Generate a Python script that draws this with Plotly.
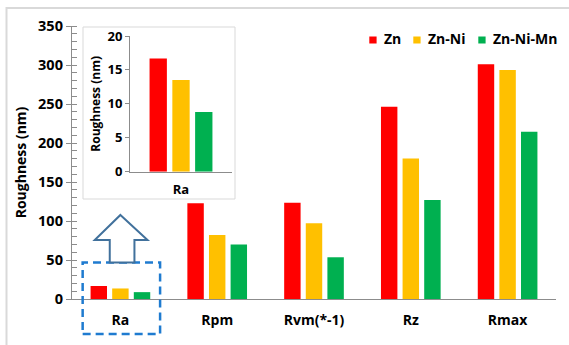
import plotly.graph_objects as go

# Surface roughness parameters for the three coatings
categories = ["Ra", "Rpm", "Rvm(*-1)", "Rz", "Rmax"]
zn = [16.7, 122.7, 123.5, 246.5, 301.0]
zn_ni = [13.5, 82.0, 97.0, 180.0, 293.5]
zn_ni_mn = [8.8, 70.0, 53.5, 127.0, 214.5]

series_names = ["Zn", "Zn-Ni", "Zn-Ni-Mn"]
series_values = [zn, zn_ni, zn_ni_mn]
series_colors = ["#FF0000", "#FFC000", "#00B050"]

W, H = 569, 345
L, R, T, B = 72, 13, 26, 46
PW, PH = W - L - R, H - T - B


def px_x(px):
    return (px - L) / PW


def px_y(py):
    return (H - B - py) / PH


FONT = "Open Sans"
AXIS_GREY = "#8C8C8C"

fig = go.Figure()

# main grouped bars
for name, vals, col in zip(series_names, series_values, series_colors):
    fig.add_trace(go.Bar(x=categories, y=vals, name=name, marker_color=col,
                         marker_line_width=0, xaxis="x", yaxis="y", showlegend=False))

# inset: zoom on Ra
for name, vals, col in zip(series_names, series_values, series_colors):
    fig.add_trace(go.Bar(x=categories[:1], y=vals[:1], name=name, marker_color=col,
                         marker_line_width=0, xaxis="x2", yaxis="y2", showlegend=False))

shapes = [
    # outer frame
    dict(type="rect", xref="paper", yref="paper", x0=px_x(6.5), x1=px_x(620), y0=px_y(400), y1=px_y(8),
         line=dict(color="#D9D9D9", width=2), fillcolor="rgba(0,0,0,0)", layer="below"),
    # inset panel
    dict(type="rect", xref="paper", yref="paper", x0=px_x(83), x1=px_x(235), y0=px_y(199), y1=px_y(27),
         line=dict(color="#D9D9D9", width=1), fillcolor="white", layer="below"),
    # dashed highlight around Ra
    dict(type="rect", xref="x", yref="paper", x0=-0.39, x1=0.41, y0=px_y(334), y1=px_y(262.5),
         line=dict(color="#1F7BD0", width=2.5, dash="8px,5px"), fillcolor="rgba(0,0,0,0)"),
]

# hollow up-arrow pointing from the Ra group to the inset
arrow = [(0.0, 215), (0.28, 240), (0.145, 240), (0.145, 262.5), (-0.11, 262.5), (-0.11, 240), (-0.265, 240)]
path = "M " + " L ".join(f"{xc},{px_y(py)}" for xc, py in arrow) + " Z"
shapes.append(dict(type="path", xref="x", yref="paper", path=path,
                   line=dict(color="#41719C", width=2), fillcolor="white"))

# legend: small colour squares followed by the series names
annotations = []
legend_sq_x = [369.3, 413.3, 478.3]
for name, col, sx in zip(series_names, series_colors, legend_sq_x):
    shapes.append(dict(type="rect", xref="paper", yref="paper",
                       x0=px_x(sx), x1=px_x(sx + 7.3), y0=px_y(43.5), y1=px_y(36.5),
                       line=dict(width=0), fillcolor=col))
    annotations.append(dict(xref="paper", yref="paper", x=px_x(sx + 12.5), y=px_y(38.3),
                            xanchor="left", yanchor="middle", showarrow=False, text=name,
                            font=dict(size=14, weight="bold", color="black")))

fig.update_layout(
    width=W, height=H,
    margin=dict(l=L, r=R, t=T, b=B),
    paper_bgcolor="white", plot_bgcolor="rgba(0,0,0,0)",
    font=dict(family=FONT, size=14, color="black", weight="bold"),
    barmode="group", bargap=0.33, bargroupgap=0.24,
    showlegend=False,
    xaxis=dict(domain=[0, 1], showline=True, linecolor=AXIS_GREY, linewidth=1.3,
               ticks="", showgrid=False, zeroline=False, ticklabelstandoff=8,
               tickfont=dict(size=14, weight="bold")),
    yaxis=dict(domain=[0, 1], range=[0, 350], dtick=50, showline=True, linecolor=AXIS_GREY,
               linewidth=1.3, ticks="outside", ticklen=5, tickcolor=AXIS_GREY, tickwidth=1.3,
               minor=dict(dtick=10, ticks="inside", ticklen=5, tickcolor=AXIS_GREY, tickwidth=1),
               showgrid=False, zeroline=False, tickfont=dict(size=14.5, weight="bold"),
               title=dict(text="Roughness (nm)", font=dict(size=14, weight="bold"), standoff=8)),
    # inner half of the major ticks
    yaxis3=dict(overlaying="y", anchor="x", side="left", range=[0, 350], dtick=50,
                ticks="inside", ticklen=5, tickcolor=AXIS_GREY, tickwidth=1.3,
                showticklabels=False, showline=False, showgrid=False, zeroline=False),
    xaxis2=dict(domain=[px_x(130), px_x(232)], anchor="y2", showline=True, linecolor=AXIS_GREY,
                linewidth=1, ticks="", showgrid=False, zeroline=False, ticklabelstandoff=6,
                tickfont=dict(size=13, weight="bold")),
    yaxis2=dict(domain=[px_y(171.7), px_y(36)], anchor="x2", range=[0, 20], dtick=5,
                showline=True, linecolor=AXIS_GREY, linewidth=1, ticks="outside", ticklen=4,
                tickcolor=AXIS_GREY, showgrid=False, zeroline=False,
                tickfont=dict(size=13, weight="bold"),
                title=dict(text="Roughness (nm)", font=dict(size=12, weight="bold"), standoff=4)),
    shapes=shapes,
    annotations=annotations,
)

fig.write_html("out.html")
